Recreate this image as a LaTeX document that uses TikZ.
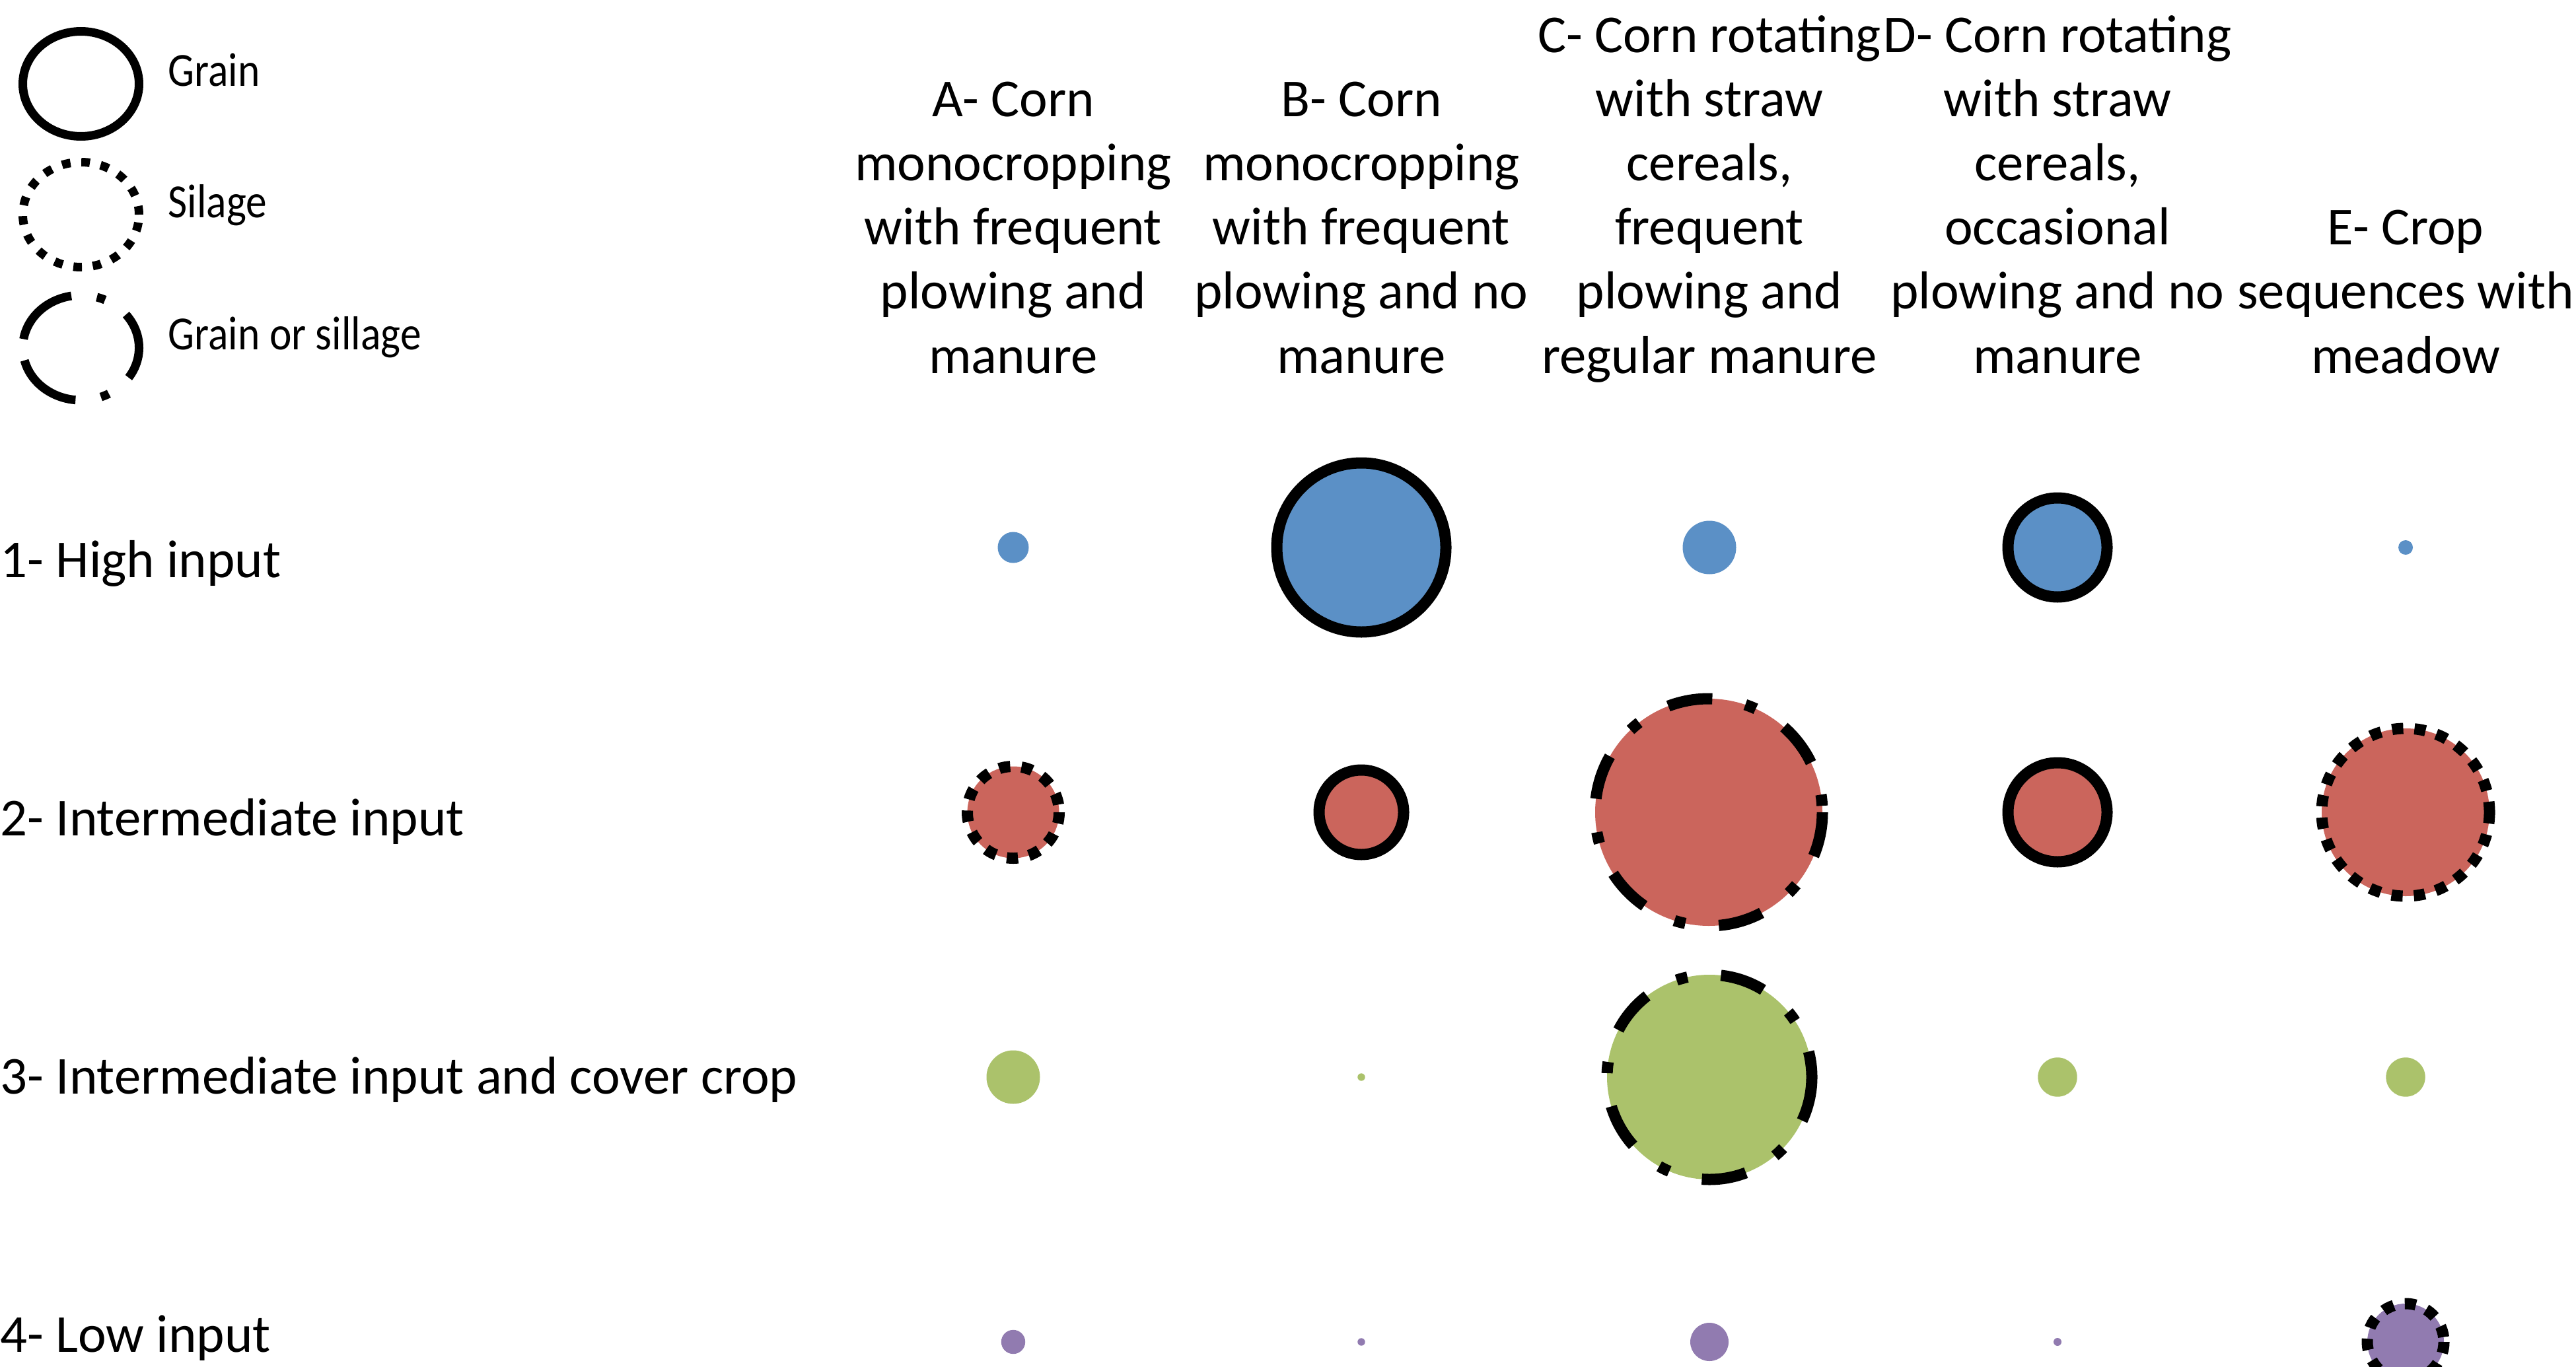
\documentclass[tikz,border=0pt]{standalone}
\usepackage{fontspec}
\setmainfont{Carlito}
\newfontfamily\legendfont[FakeStretch=0.88]{Carlito}
\usepackage{tikz}
\definecolor{inputblue}{RGB}{91,144,198}
\definecolor{inputred}{RGB}{203,101,92}
\definecolor{inputgreen}{RGB}{171,194,107}
\definecolor{inputpurple}{RGB}{145,123,176}
\tikzset{%
  bubble/.style  = {line width=0.17cm, line cap=butt},%
  grain/.style   = {bubble, draw=black},%
  silage/.style  = {grain, dash pattern=on 0.17cm off 0.17cm},%
  either/.style  = {grain, dash pattern=on 0.68cm off 0.51cm on 0.17cm off 0.51cm},%
  bare/.style    = {bubble, draw=none},%
  keyshape/.style = {draw=black, line width=0.13cm, line cap=butt}%
}

\begin{document}
\begin{tikzpicture}[
	every node/.style = {inner sep=0pt, font=\fontsize{23}{27.6}\selectfont},
	colhead/.style = {anchor=base, align=center},
	rowhead/.style = {anchor=base west},
	keytext/.style = {anchor=base west, font=\legendfont\fontsize{20.5}{24}\selectfont}]
	\useasboundingbox (0,0) rectangle (39,-20.7);
	% legend
	\draw [keyshape] (1.225,-1.27) ellipse [x radius=0.88, y radius=0.795];
	\draw [keyshape, dash pattern=on 0.13cm off 0.165cm] (1.225,-3.25) ellipse [x radius=0.88, y radius=0.795];
	\draw [keyshape, dash pattern=on 1.04cm off 0.39cm on 0.13cm off 0.39cm]
		(1.225,-5.265) ++(194:0.88cm and 0.795cm) arc [start angle=194, end angle=554, x radius=0.88, y radius=0.795];
	\node [keytext] (keygrain) at (2.54,-1.31) {Grain};
	\node [keytext] (keysilage) at (2.54,-3.296) {Silage};
	\node [keytext] (keyeither) at (2.54,-5.29) {Grain or sillage};
	% column heads
	\node [colhead] (heada) at (15.34,-5.65) {A- Corn\\monocropping\\with frequent\\plowing and\\manure};
	\node [colhead] (headb) at (20.61,-5.65) {B- Corn\\monocropping\\with frequent\\plowing and no\\manure};
	\node [colhead] (headc) at (25.88,-5.65) {C- Corn rotating\\with straw\\cereals,\\frequent\\plowing and\\regular manure};
	\node [colhead] (headd) at (31.15,-5.65) {D- Corn rotating\\with straw\\cereals,\\occasional\\plowing and no\\manure};
	\node [colhead] (heade) at (36.42,-5.65) {E- Crop\\sequences with\\meadow};
	% row heads
	\node [rowhead] (rowhigh) at (0,-8.74) {1- High input};
	\node [rowhead] (rowmid) at (0,-12.65) {2- Intermediate input};
	\node [rowhead] (rowcover) at (0,-16.56) {3- Intermediate input and cover crop};
	\node [rowhead] (rowlow) at (0,-20.47) {4- Low input};
	% bubbles
	\foreach \px/\py/\r/\col/\kind in {%
		15.34/8.29/0.235/inputblue/bare, 20.61/8.29/1.28/inputblue/grain,
		25.88/8.29/0.405/inputblue/bare, 31.15/8.29/0.75/inputblue/grain,
		36.42/8.29/0.11/inputblue/bare,
		15.34/12.30/0.695/inputred/silage, 20.61/12.30/0.64/inputred/grain,
		25.87/12.30/1.72/inputred/either, 31.15/12.30/0.75/inputred/grain,
		36.42/12.30/1.27/inputred/silage,
		15.34/16.31/0.405/inputgreen/bare, 20.61/16.31/0.057/inputgreen/bare,
		25.88/16.31/1.55/inputgreen/either, 31.15/16.31/0.297/inputgreen/bare,
		36.42/16.31/0.297/inputgreen/bare,
		15.34/20.32/0.182/inputpurple/bare, 20.61/20.32/0.057/inputpurple/bare,
		25.88/20.32/0.29/inputpurple/bare, 31.15/20.32/0.06/inputpurple/bare,
		36.42/20.32/0.58/inputpurple/silage}
		\path [\kind, fill=\col] (\px,-\py) ++(\r,0) arc [start angle=0, end angle=-360, radius=\r];
\end{tikzpicture}
\end{document}
